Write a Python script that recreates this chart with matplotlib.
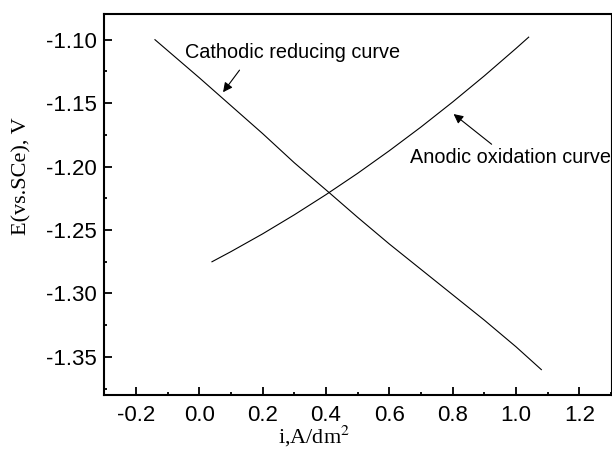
import matplotlib
matplotlib.use('Agg')
from matplotlib import pyplot as plt
from matplotlib.ticker import MultipleLocator

# cathodic reducing curve
cath_i = [-0.14, 0.0, 0.1, 0.2, 0.3, 0.41, 0.5, 0.6, 0.7, 0.8, 0.9, 1.0, 1.08]
cath_e = [-1.100, -1.130, -1.152, -1.174, -1.197, -1.2205, -1.240, -1.261,
          -1.281, -1.301, -1.321, -1.342, -1.360]

# anodic oxidation curve
anod_i = [0.04, 0.1, 0.2, 0.3, 0.4, 0.5, 0.6, 0.7, 0.8, 0.9, 1.0, 1.04]
anod_e = [-1.275, -1.267, -1.253, -1.238, -1.2221, -1.2053, -1.1875,
          -1.1688, -1.1491, -1.1285, -1.1069, -1.098]

x_ticks = [-0.2, 0.0, 0.2, 0.4, 0.6, 0.8, 1.0, 1.2]
y_ticks = [-1.35, -1.30, -1.25, -1.20, -1.15, -1.10]

plt.rcParams['font.family'] = ['Liberation Sans', 'DejaVu Sans']
plt.rcParams['mathtext.fontset'] = 'stix'

fig = plt.figure(figsize=(6.12, 4.5), dpi=100)
ax = fig.add_axes([0.1704, 0.1222, 0.828, 0.846])

ax.plot(cath_i, cath_e, color='k', lw=0.8)
ax.plot(anod_i, anod_e, color='k', lw=0.8)

ax.set_xlim(-0.3, 1.3)
ax.set_ylim(-1.38, -1.08)
ax.set_xticks(x_ticks)
ax.set_yticks(y_ticks)
ax.set_xticklabels(['%.1f' % v for v in x_ticks])
ax.set_yticklabels(['%.2f' % v for v in y_ticks])
ax.xaxis.set_minor_locator(MultipleLocator(0.1))
ax.yaxis.set_minor_locator(MultipleLocator(0.025))

ax.tick_params(which='both', direction='in', top=False, right=False, width=1.3)
ax.tick_params(axis='x', which='major', length=6, pad=7.5, labelsize=16)
ax.tick_params(axis='y', which='major', length=6, pad=5.5, labelsize=16)
ax.tick_params(which='minor', length=2.5)
for s in ax.spines.values():
    s.set_linewidth(1.5)
ax.spines['right'].set_linewidth(0.8)

ax.set_xlabel(r'i,A/dm$^2$', family='Liberation Serif', fontsize=16)
ax.xaxis.set_label_coords(0.414, -0.110)
ax.xaxis.label.set_va('center')
ax.set_ylabel('E(vs.SCe), V', family='Liberation Serif', fontsize=16)
ax.yaxis.set_label_coords(-0.162, 0.575)
ax.yaxis.label.set_va('center')

ax.text(-0.044, -1.110, 'Cathodic reducing curve', fontsize=14.3, ha='left', va='center')
ax.annotate('', xy=(0.075, -1.1414), xytext=(0.127, -1.124),
            arrowprops=dict(arrowstyle='-|>', color='k', lw=0.8,
                            mutation_scale=14, shrinkA=0, shrinkB=0))
ax.text(0.665, -1.1925, 'Anodic oxidation curve', fontsize=14.3, ha='left', va='center')
ax.annotate('', xy=(0.803, -1.1586), xytext=(0.923, -1.1824),
            arrowprops=dict(arrowstyle='-|>', color='k', lw=0.8,
                            mutation_scale=14, shrinkA=0, shrinkB=0))

fig.savefig('out.png', dpi=100)
